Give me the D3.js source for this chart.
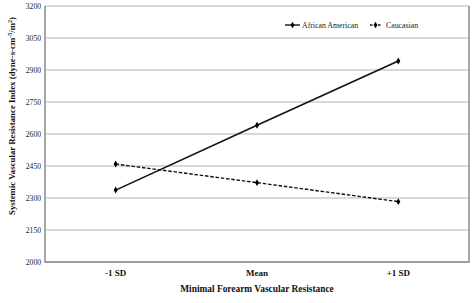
<!DOCTYPE html>
<html lang="en">
<head>
<meta charset="UTF-8">
<title>Systemic Vascular Resistance Index</title>
<script src="https://cdn.jsdelivr.net/npm/d3@7.9.0/dist/d3.min.js"></script>
<style>
    body { margin: 0; background: #fff; }
    svg { display: block; font-family: "Liberation Serif", "DejaVu Serif", serif; }
    .grid line { stroke: #b4b4b4; stroke-width: 1.2px; }
    .ytick { font-size: 7.6px; fill: #222; }
    .xtick { font-size: 9px; font-weight: bold; fill: #111; }
    .title { font-size: 9.4px; font-weight: bold; fill: #111; }
    .ytitle { font-size: 8.8px; font-weight: bold; fill: #111; }
    .legend-text { font-size: 7.8px; fill: #222; }
</style>
</head>
<body>
<svg id="chart" width="473" height="303"></svg>
<script>
    // --- data ---
    const categories = ["-1 SD", "Mean", "+1 SD"];
    const seriesNames = ["African American", "Caucasian"];
    const africanAmerican = [2337, 2641, 2942];
    const caucasian = [2459, 2372, 2283];
    const yTicks = [2000, 2150, 2300, 2450, 2600, 2750, 2900, 3050, 3200];

    const series = [
        { name: seriesNames[0], values: africanAmerican, dash: null },
        { name: seriesNames[1], values: caucasian, dash: "3.5,1.8" }
    ];

    const margin = { top: 6, right: 4, bottom: 41, left: 45 };
    const width = 473, height = 303;

    const svg = d3.select("#chart");

    const x = d3.scalePoint()
        .domain(categories)
        .range([margin.left, width - margin.right])
        .padding(0.5);

    const y = d3.scaleLinear()
        .domain([2000, 3200])
        .range([height - margin.bottom, margin.top]);

    // gridlines
    svg.append("g")
        .attr("class", "grid")
        .selectAll("line")
        .data(yTicks)
        .enter().append("line")
        .attr("x1", margin.left)
        .attr("x2", width - margin.right)
        .attr("y1", d => y(d))
        .attr("y2", d => y(d));

    // frame (left, right, bottom)
    svg.append("path")
        .attr("d", `M${margin.left},${margin.top}V${height - margin.bottom}H${width - margin.right}V${margin.top}`)
        .attr("fill", "none")
        .attr("stroke", "#8a8a8a")
        .attr("stroke-width", 1.5);

    // y tick labels
    svg.append("g")
        .selectAll("text")
        .data(yTicks)
        .enter().append("text")
        .attr("class", "ytick")
        .attr("x", margin.left - 4)
        .attr("y", d => y(d))
        .attr("dy", "0.33em")
        .attr("text-anchor", "end")
        .text(d => d);

    // x tick labels
    svg.append("g")
        .selectAll("text")
        .data(categories)
        .enter().append("text")
        .attr("class", "xtick")
        .attr("x", d => x(d))
        .attr("y", 276)
        .attr("text-anchor", "middle")
        .text(d => d);

    // axis titles
    svg.append("text")
        .attr("class", "title")
        .attr("x", 257)
        .attr("y", 292)
        .attr("text-anchor", "middle")
        .text("Minimal Forearm Vascular Resistance");

    const yTitle = svg.append("text")
        .attr("class", "ytitle")
        .attr("text-anchor", "middle")
        .attr("transform", "translate(15,116) rotate(-90)");
    yTitle.append("tspan").text("Systemic Vascular Resistance Index (dyne-s-cm");
    yTitle.append("tspan").attr("dy", -3).style("font-size", "6px").text("-5");
    yTitle.append("tspan").attr("dy", 3).text("/m");
    yTitle.append("tspan").attr("dy", -3).style("font-size", "6px").text("2");
    yTitle.append("tspan").attr("dy", 3).text(")");

    // lines
    const line = d3.line()
        .x((d, i) => x(categories[i]))
        .y(d => y(d));

    const groups = svg.append("g")
        .selectAll("g")
        .data(series)
        .enter().append("g");

    groups.append("path")
        .attr("d", d => line(d.values))
        .attr("fill", "none")
        .attr("stroke", "#111")
        .attr("stroke-width", d => d.dash ? 1.4 : 1.6)
        .attr("stroke-dasharray", d => d.dash);

    groups.selectAll("path.mark")
        .data(d => d.values)
        .enter().append("path")
        .attr("class", "mark")
        .attr("d", d3.symbol(d3.symbolDiamond, 14))
        .attr("transform", (d, i) => `translate(${x(categories[i])},${y(d)})`)
        .attr("fill", "#000");

    // legend
    const legendItems = [
        { s: series[0], x0: 285, x1: 300, tx: 302 },
        { s: series[1], x0: 370, x1: 381, tx: 386 }
    ];
    const lg = svg.append("g")
        .selectAll("g")
        .data(legendItems)
        .enter().append("g");
    lg.append("line")
        .attr("x1", d => d.x0).attr("x2", d => d.x1)
        .attr("y1", 25).attr("y2", 25)
        .attr("stroke", "#111")
        .attr("stroke-width", 1.4)
        .attr("stroke-dasharray", d => d.s.dash ? "2.5,1.5" : null);
    lg.append("path")
        .attr("d", d3.symbol(d3.symbolDiamond, 12))
        .attr("transform", d => `translate(${(d.x0 + d.x1) / 2},25)`)
        .attr("fill", "#000");
    lg.append("text")
        .attr("class", "legend-text")
        .attr("x", d => d.tx)
        .attr("y", 25)
        .attr("dy", "0.33em")
        .text(d => d.s.name);
</script>
</body>
</html>
